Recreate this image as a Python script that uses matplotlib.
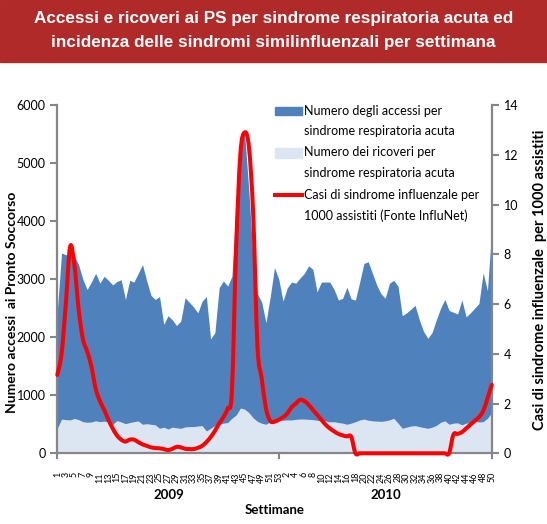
import numpy as np
import matplotlib
matplotlib.use("Agg")
import matplotlib.pyplot as plt
from matplotlib.patches import Rectangle, PathPatch
from matplotlib.lines import Line2D
from matplotlib.path import Path

# categories: weeks 2009 (1-53) and 2010 (1-50)
weeks_2009 = list(range(1, 54))
weeks_2010 = list(range(1, 51))
years = ["2009", "2010"]

# numero degli accessi per sindrome respiratoria acuta
accessi = [2450, 3450, 3420, 3420, 3400, 3250, 3000, 2820, 2950, 3100,
           2930, 3050, 2980, 2900, 2960, 2990, 2650, 2980, 2950, 3100,
           3250, 2970, 2720, 2650, 2700, 2220, 2370, 2300, 2200, 2280,
           2680, 2600, 2520, 2420, 2620, 2700, 1970, 2080, 2850, 2970,
           2880, 3050, 4300, 5450, 5500, 4500, 3300, 2750, 2600, 2250,
           2700, 3200, 3000, 2620, 2850, 2950, 2930, 3020, 3100, 3230,
           3170, 2780, 2950, 2950, 2950, 2820, 2640, 2670, 2860, 2660,
           2640, 2950, 3270, 3300, 3100, 2900, 2750, 2670, 2930, 2980,
           2880, 2370, 2420, 2480, 2550, 2300, 2100, 1980, 2080, 2300,
           2500, 2650, 2460, 2430, 2400, 2640, 2350, 2420, 2500, 2580,
           3110, 2800, 3850]

# numero dei ricoveri per sindrome respiratoria acuta
ricoveri = [430, 590, 580, 575, 600, 580, 545, 535, 540, 560,
            545, 555, 540, 500, 563, 540, 510, 530, 545, 557,
            500, 510, 500, 490, 431, 450, 419, 450, 440, 430,
            455, 460, 460, 470, 477, 385, 430, 480, 500, 520,
            530, 603, 660, 780, 760, 700, 610, 550, 517, 500,
            546, 560, 574, 570, 575, 574, 585, 591, 590, 585,
            580, 570, 557, 557, 540, 545, 530, 520, 500, 520,
            545, 574, 590, 570, 560, 555, 550, 560, 575, 603,
            520, 431, 450, 470, 477, 460, 445, 431, 450, 480,
            534, 560, 500, 520, 525, 490, 520, 525, 550, 540,
            545, 603, 700]

# casi di sindrome influenzale per 1000 assistiti (InfluNet)
ili = [3.15, 4.0, 6.0, 8.3, 7.6, 5.8, 4.6, 4.1, 3.5, 2.6,
       2.1, 1.75, 1.35, 1.0, 0.72, 0.55, 0.47, 0.55, 0.55, 0.45,
       0.36, 0.3, 0.24, 0.21, 0.2, 0.17, 0.13, 0.18, 0.26, 0.24,
       0.18, 0.17, 0.17, 0.22, 0.3, 0.45, 0.65, 0.9, 1.2, 1.45,
       1.8, 2.5, 8.3, 12.06, 12.9, 12.3, 9.6, 4.3, 3.0, 1.8,
       1.3, 1.27, 1.35, 1.45, 1.6, 1.85, 2.0, 2.15, 2.1, 1.95,
       1.75, 1.55, 1.35, 1.15, 1.0, 0.88, 0.78, 0.72, 0.68, 0.67,
       0.0, 0.0, 0.0, 0.0, 0.0, 0.0, 0.0, 0.0, 0.0, 0.0,
       0.0, 0.0, 0.0, 0.0, 0.0, 0.0, 0.0, 0.0, 0.0, 0.0,
       0.0, 0.0, 0.0, 0.75, 0.78, 0.85, 1.0, 1.15, 1.3, 1.45,
       1.7, 2.2, 2.75]

legend_lines = [
    ["Numero degli accessi per", "sindrome respiratoria acuta"],
    ["Numero dei ricoveri per", "sindrome respiratoria acuta"],
    ["Casi di sindrome influenzale per", "1000 assistiti (Fonte InfluNet)"],
]

DARK = "#4F81BD"
LIGHT = "#DCE6F2"
RED = "#FF0000"
GREY = "#868686"
BANNER = "#B02A2A"
FONT = "Lato"

plt.rcParams["font.family"] = [FONT, "DejaVu Sans"]


def smooth_path(xs, ys):
    # excel style smoothed line: bezier segments through every data point
    pts = np.column_stack([xs, ys]).astype(float)
    verts = [pts[0]]
    codes = [Path.MOVETO]
    n = len(pts)
    for i in range(n - 1):
        p0 = pts[max(i - 1, 0)]
        p1 = pts[i]
        p2 = pts[i + 1]
        p3 = pts[min(i + 2, n - 1)]
        verts += [p1 + (p2 - p0) / 6, p2 - (p3 - p1) / 6, p2]
        codes += [Path.CURVE4] * 3
    return Path(verts, codes)


W, H = 547, 524
fig = plt.figure(figsize=(W / 100, H / 100), dpi=100)

# title banner
fig.patches.append(Rectangle((0, 1 - 62 / H), 1, 62 / H, transform=fig.transFigure,
                             color=BANNER, zorder=0))
fig.text(0.5, 1 - 30.5 / H,
         "Accessi e ricoveri ai PS per sindrome respiratoria acuta ed\n"
         "incidenza delle sindromi similinfluenzali per settimana",
         ha="center", va="center", color="white", fontsize=12.3, fontweight="bold",
         family="Liberation Sans", linespacing=1.75)

ax = fig.add_axes([57.3 / W, 1 - 453.3 / H, 434.4 / W, 348.3 / H])
ax2 = ax.twinx()

x = np.arange(len(accessi))
labels = [str(w) for w in weeks_2009] + [str(w) for w in weeks_2010]

ax.fill_between(x, 0, accessi, color=DARK, linewidth=0)
ax.fill_between(x, 0, ricoveri, color=LIGHT, linewidth=0)
ax2.add_patch(PathPatch(smooth_path(x, ili), facecolor="none", edgecolor=RED,
                        linewidth=2.9, joinstyle="round", capstyle="round",
                        clip_on=False, zorder=4))

ax.set_xlim(0, len(accessi) - 1)
ax.set_ylim(0, 6000)
ax2.set_ylim(0, 14)
ax.set_yticks(np.arange(0, 6001, 1000))
ax2.set_yticks(np.arange(0, 15, 2))

ax.set_xticks(x[::2])
ax.set_xticklabels(labels[::2], rotation=90, fontsize=6.5)
ax.tick_params(axis="x", length=0, pad=13.5)
ax.tick_params(axis="y", labelsize=9, length=5, width=1.5, color=GREY, direction="out")
ax2.tick_params(axis="y", labelsize=9, length=5, width=1.5, color=GREY, direction="out")

for a in (ax, ax2):
    a.spines["top"].set_visible(False)
    for s in ("left", "right", "bottom"):
        a.spines[s].set_color(GREY)
        a.spines[s].set_linewidth(1.6)
ax.spines["right"].set_visible(False)
ax2.spines["left"].set_visible(False)
ax2.spines["bottom"].set_visible(False)

# year separators and labels
n09 = len(weeks_2009)
trans = ax.get_xaxis_transform()
for sep in (0, n09 - 1, len(accessi) - 1):
    ax.plot([sep, sep], [0, -0.014], transform=trans, color=GREY, lw=1.5, clip_on=False)
ax.text((n09 - 0.5) / 2, -0.12, years[0], transform=trans, ha="center", va="center",
        fontsize=9.5, fontweight="bold")
ax.text((n09 - 0.5 + len(accessi) - 1) / 2, -0.12, years[1], transform=trans,
        ha="center", va="center", fontsize=9.5, fontweight="bold")
ax.text(0.5, -0.163, "Settimane", transform=ax.transAxes, ha="center", va="center",
        fontsize=9.5, fontweight="bold")

fig.text(11.7 / W, 1 - 302 / H, "Numero accessi  ai Pronto Soccorso", rotation=90,
         ha="center", va="center", fontsize=10, fontweight="bold")
fig.text(540 / W, 1 - 280 / H, "Casi di sindrome influenzale  per 1000 assistiti",
         rotation=90, ha="center", va="center", fontsize=10.5, fontweight="bold")

# legend drawn inside the plot area
lx0, lx1, tx = 0.501, 0.563, 0.5685
ax2.add_patch(Rectangle((lx0, 0.971), lx1 - lx0, 0.024, transform=ax2.transAxes,
                        color=DARK, clip_on=False, zorder=5))
ax2.add_patch(Rectangle((lx0, 0.848), lx1 - lx0, 0.028, transform=ax2.transAxes,
                        color=LIGHT, clip_on=False, zorder=5))
ax2.add_line(Line2D([lx0, lx1], [0.742, 0.742], transform=ax2.transAxes,
                    color=RED, lw=2.9, zorder=5))
rows = [(0.983, 0.925), (0.865, 0.805), (0.742, 0.681)]
for (y1, y2), (t1, t2) in zip(rows, legend_lines):
    ax2.text(tx, y1, t1, transform=ax2.transAxes, ha="left", va="center", fontsize=9)
    ax2.text(tx, y2, t2, transform=ax2.transAxes, ha="left", va="center", fontsize=9)

fig.savefig("out.png", dpi=100)
